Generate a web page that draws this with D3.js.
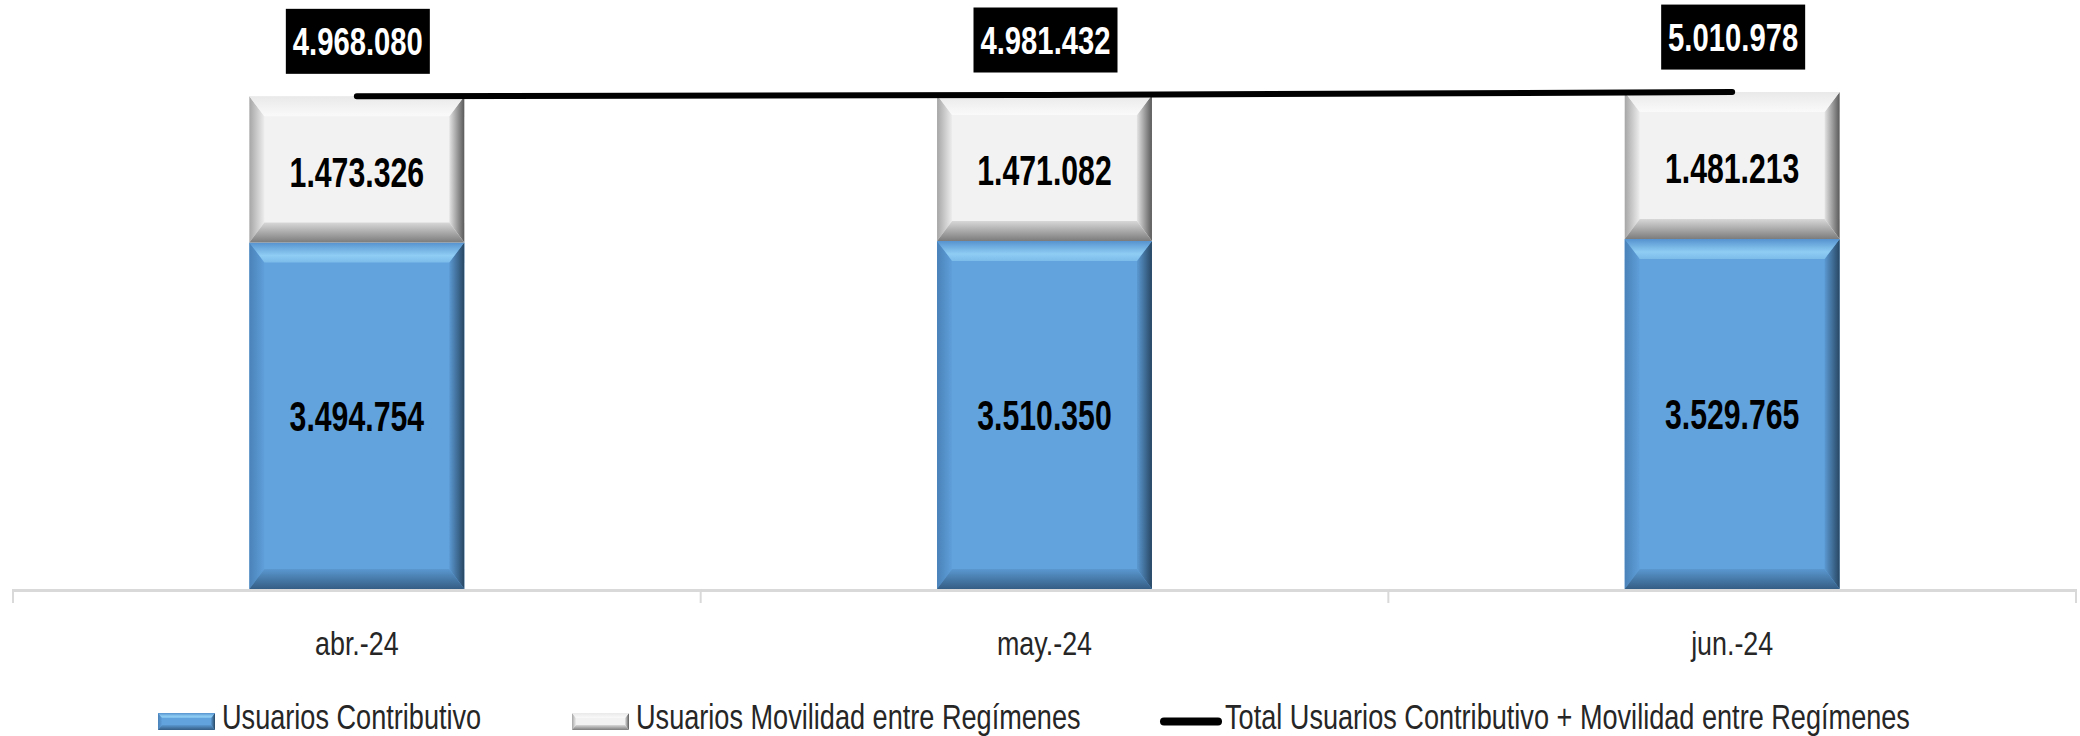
<!DOCTYPE html>
<html>
<head>
<meta charset="utf-8">
<script src="https://cdn.jsdelivr.net/npm/d3@7"></script>
<style>
  html, body { margin: 0; padding: 0; background: #fff; }
  svg { display: block; }
</style>
</head>
<body>
<div id="chart"></div>
<script>
const months = ['abr.-24', 'may.-24', 'jun.-24'];
const contributivo = [3494754, 3510350, 3529765];
const movilidad = [1473326, 1471082, 1481213];
const seriesNames = ['Usuarios Contributivo', 'Usuarios Movilidad entre Regímenes', 'Total Usuarios Contributivo + Movilidad entre Regímenes'];

const width = 2080, height = 736;
const fontFamily = '"Liberation Sans", Arial, sans-serif';
const totals = contributivo.map((v, i) => v + movilidad[i]);

const es = d3.formatLocale({decimal: ',', thousands: '.', grouping: [3], currency: ['$', '']});
const fmt = es.format(',d');

const x = d3.scaleBand().domain(months).range([13, 2076]).padding(0);
const y = d3.scaleLinear().domain([0, 6000000]).range([589, -6]);
const barW = x.bandwidth() * 0.3125;
const cx = d => x(d) + x.bandwidth() / 2;
// no narrow face installed, so text gets condensed by hand
const at = (px, py, s) => `translate(${px},${py}) scale(${s},1)`;

const svg = d3.select('#chart').append('svg')
    .attr('width', width)
    .attr('height', height)
    .style('font-family', fontFamily);

const defs = svg.append('defs');

// bevel palettes, one per bar series
const palettes = {
    blue: {
        base: '#62a3de',
        top: [['0', '#5592cf'], ['0.65', '#8fcdf4'], ['1', '#7cbcea']],
        bottom: [['0', '#5a98d0'], ['1', '#345d84']],
        left: [['0', '#4a82b8'], ['1', '#5f9fda']],
        right: [['0', '#5b99d2'], ['1', '#284763']]
    },
    white: {
        base: '#f3f2f3',
        top: [['0', '#e9e9e9'], ['1', '#fafafa']],
        bottom: [['0', '#d8d8d8'], ['1', '#7c7c7c']],
        left: [['0', '#a6a6a6'], ['1', '#ededed']],
        right: [['0', '#e4e4e4'], ['1', '#5a5a5a']]
    }
};

Object.entries(palettes).forEach(([name, p]) => {
    ['top', 'bottom', 'left', 'right'].forEach(side => {
        const vertical = side === 'top' || side === 'bottom';
        const grad = defs.append('linearGradient')
            .attr('id', `${name}-${side}`)
            .attr('x1', 0).attr('y1', 0)
            .attr('x2', vertical ? 0 : 1).attr('y2', vertical ? 1 : 0);
        p[side].forEach(([o, c]) => grad.append('stop').attr('offset', o).attr('stop-color', c));
    });
});

function bevelRect(g, x0, y0, w, h, name, bx, by) {
    const x1 = x0 + w, y1 = y0 + h;
    g.append('rect').attr('x', x0).attr('y', y0).attr('width', w).attr('height', h)
        .attr('fill', palettes[name].base);
    const poly = pts => 'M' + pts.map(p => p.join(',')).join('L') + 'Z';
    g.append('path').attr('fill', `url(#${name}-left)`)
        .attr('d', poly([[x0, y0], [x0 + bx, y0 + by], [x0 + bx, y1 - by], [x0, y1]]));
    g.append('path').attr('fill', `url(#${name}-right)`)
        .attr('d', poly([[x1, y0], [x1 - bx, y0 + by], [x1 - bx, y1 - by], [x1, y1]]));
    g.append('path').attr('fill', `url(#${name}-top)`)
        .attr('d', poly([[x0, y0], [x1, y0], [x1 - bx, y0 + by], [x0 + bx, y0 + by]]));
    g.append('path').attr('fill', `url(#${name}-bottom)`)
        .attr('d', poly([[x0 + bx, y1 - by], [x1 - bx, y1 - by], [x1, y1], [x0, y1]]));
}

// axis
const axis = svg.append('g');
axis.append('line')
    .attr('x1', x.range()[0]).attr('x2', x.range()[1])
    .attr('y1', y(0) + 1.5).attr('y2', y(0) + 1.5)
    .attr('stroke', '#d9d9d9').attr('stroke-width', 3);
const tickPos = months.map(m => x(m)).concat([x.range()[1]]);
axis.selectAll('.tick').data(tickPos).join('line')
    .attr('x1', d => d).attr('x2', d => d)
    .attr('y1', y(0)).attr('y2', y(0) + 14)
    .attr('stroke', '#d9d9d9').attr('stroke-width', 2);
axis.selectAll('.cat').data(months).join('text')
    .attr('transform', d => at(cx(d), 655, 0.79))
    .attr('text-anchor', 'middle')
    .attr('font-size', 34).attr('fill', '#262626')
    .text(d => d);

// stacked bars
const bars = svg.append('g');
months.forEach((m, i) => {
    const bx0 = cx(m) - barW / 2;
    const yC = y(contributivo[i]);
    const yT = y(totals[i]);
    bevelRect(bars, bx0, yC, barW, y(0) - yC, 'blue', 15, 20);
    bevelRect(bars, bx0, yT, barW, yC - yT, 'white', 15, 20);
});

const labels = svg.append('g')
    .attr('text-anchor', 'middle')
    .attr('font-weight', 'bold')
    .attr('font-size', 42)
    .attr('fill', '#000');
labels.selectAll('.lc').data(months).join('text')
    .attr('transform', (d, i) => at(cx(d), (y(0) + y(contributivo[i])) / 2, 0.72))
    .attr('dy', '0.36em')
    .text((d, i) => fmt(contributivo[i]));
labels.selectAll('.lm').data(months).join('text')
    .attr('transform', (d, i) => at(cx(d), (y(contributivo[i]) + y(totals[i])) / 2 + 2, 0.72))
    .attr('dy', '0.36em')
    .text((d, i) => fmt(movilidad[i]));

// total line
const line = d3.line().x(d => cx(d.m)).y(d => y(d.v));
svg.append('path')
    .datum(months.map((m, i) => ({m, v: totals[i]})))
    .attr('d', line)
    .attr('fill', 'none')
    .attr('stroke', '#000')
    .attr('stroke-width', 6)
    .attr('stroke-linecap', 'round');

// total labels in black boxes
const tl = svg.append('g').selectAll('g').data(months).join('g')
    .attr('transform', (d, i) => `translate(${cx(d) + 1},${y(totals[i]) - 55})`);
tl.append('rect')
    .attr('x', -72).attr('y', -32.5).attr('width', 144).attr('height', 65)
    .attr('fill', '#000');
tl.append('text')
    .attr('transform', at(0, 0, 0.75))
    .attr('text-anchor', 'middle').attr('dy', '0.36em')
    .attr('font-weight', 'bold').attr('font-size', 39).attr('fill', '#fff')
    .text((d, i) => fmt(totals[i]));

// legend
const legend = svg.append('g').attr('font-size', 35).attr('fill', '#262626');
const legendX = [158, 572, 1160];
bevelRect(legend, legendX[0], 713, 57, 17, 'blue', 4, 5);
bevelRect(legend, legendX[1], 713, 57, 17, 'white', 4, 5);
legend.append('line')
    .attr('x1', legendX[2] + 4).attr('x2', legendX[2] + 58)
    .attr('y1', 721.5).attr('y2', 721.5)
    .attr('stroke', '#000').attr('stroke-width', 8).attr('stroke-linecap', 'round');
legend.selectAll('text').data(seriesNames).join('text')
    .attr('transform', (d, i) => at(legendX[i] + (i === 2 ? 65 : 64), 729, 0.775))
    .text(d => d);
</script>
</body>
</html>
